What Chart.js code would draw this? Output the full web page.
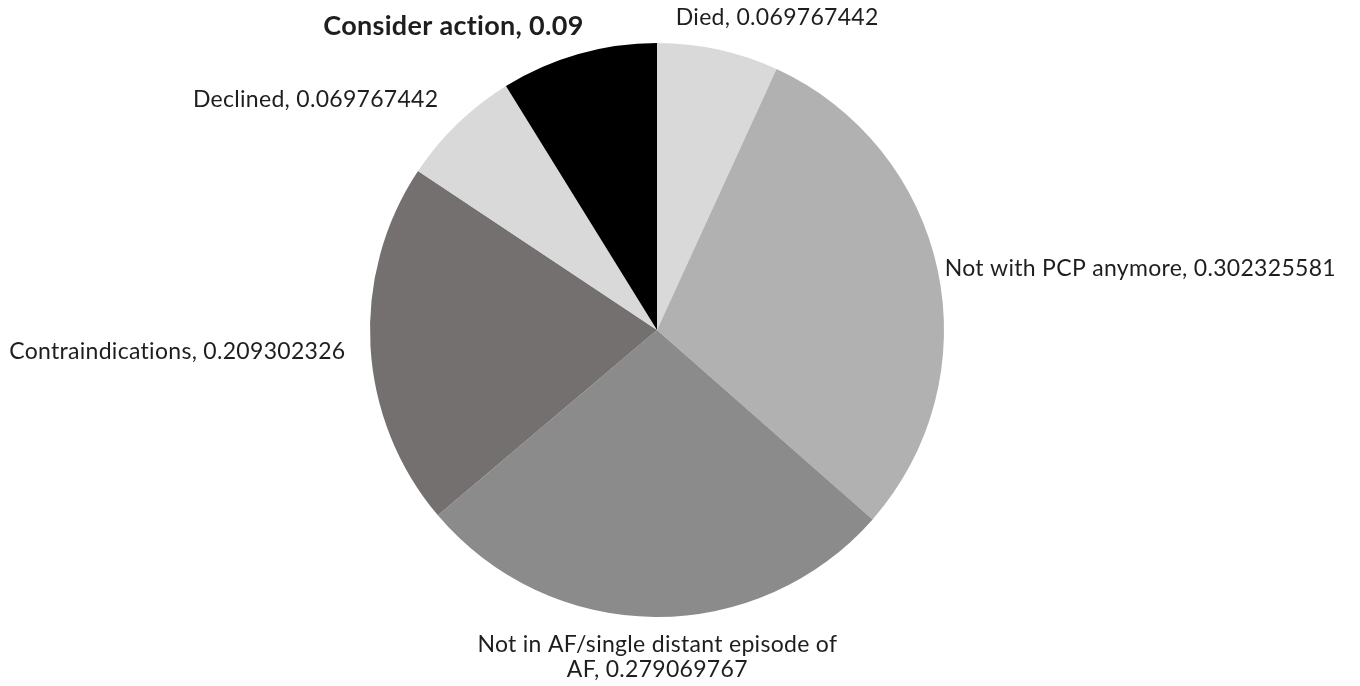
<!DOCTYPE html>
<html>
<head>
<meta charset="utf-8">
<script src="https://cdn.jsdelivr.net/npm/chart.js@4/dist/chart.umd.min.js"></script>
<style>
  html, body { margin: 0; padding: 0; background: #fff; }
  #wrap { width: 1360px; height: 686px; }
</style>
</head>
<body>
<div id="wrap"><canvas id="myChart" width="1360" height="686"></canvas></div>
<script>
// slice data, clockwise from 12 o'clock
const categories = ["Died", "Not with PCP anymore", "Not in AF/single distant episode of AF", "Contraindications", "Declined", "Consider action"];
const values = [0.069767442, 0.302325581, 0.279069767, 0.209302326, 0.069767442, 0.09];
const sliceColors = ["#d9d9d9", "#b1b1b1", "#8b8b8b", "#757070", "#d9d9d9", "#000000"];

// label placement relative to each slice's outer mid point
const labelLayout = [
    { align: "center", dx: 59, dy: -32 },
    { align: "left", dx: 7, dy: -2 },
    { align: "center", dx: 3, dy: 28, maxWidth: 360 },
    { align: "right", dx: -25, dy: 5 },
    { align: "right", dx: -19, dy: -24 },
    { align: "center", dx: -125, dy: -28, bold: true }
];

const fontFamily = "Lato, 'Open Sans', sans-serif";

function wrapText(ctx, text, maxWidth) {
    if (!maxWidth) return [text];
    let words = text.split(" ");
    let lines = [];
    let line = "";
    for (let w of words) {
        let test = line ? line + " " + w : w;
        if (ctx.measureText(test).width > maxWidth && line) {
            lines.push(line);
            line = w;
        } else {
            line = test;
        }
    }
    if (line) lines.push(line);
    return lines;
}

const sliceLabels = {
    id: "sliceLabels",
    afterDatasetsDraw(chart) {
        const ctx = chart.ctx;
        const meta = chart.getDatasetMeta(0);
        ctx.save();
        ctx.fillStyle = "#1e1e1e";
        ctx.textBaseline = "middle";
        ctx.letterSpacing = "0.3px"; // stops the "ti" ligature
        meta.data.forEach((arc, i) => {
            const p = arc.getProps(["x", "y", "startAngle", "endAngle", "outerRadius"], true);
            const mid = (p.startAngle + p.endAngle) / 2;
            const ax = p.x + Math.cos(mid) * p.outerRadius;
            const ay = p.y + Math.sin(mid) * p.outerRadius;
            const lay = labelLayout[i];
            ctx.font = (lay.bold ? "bold 27px " : "23px ") + fontFamily;
            ctx.textAlign = lay.align;
            const text = categories[i] + ", " + values[i];
            const lines = wrapText(ctx, text, lay.maxWidth);
            lines.forEach((ln, k) => {
                ctx.fillText(ln, ax + lay.dx, ay + lay.dy + k * 25);
            });
        });
        ctx.restore();
    }
};

const ctx = document.getElementById("myChart").getContext("2d");
new Chart(ctx, {
    type: "pie",
    data: {
        labels: categories,
        datasets: [{
            data: values,
            backgroundColor: sliceColors,
            borderWidth: 0
        }]
    },
    options: {
        responsive: false,
        animation: false,
        layout: {
            padding: { left: 370, right: 416, top: 43, bottom: 69 }
        },
        plugins: {
            legend: { display: false },
            tooltip: { enabled: false }
        }
    },
    plugins: [sliceLabels]
});
</script>
</body>
</html>
